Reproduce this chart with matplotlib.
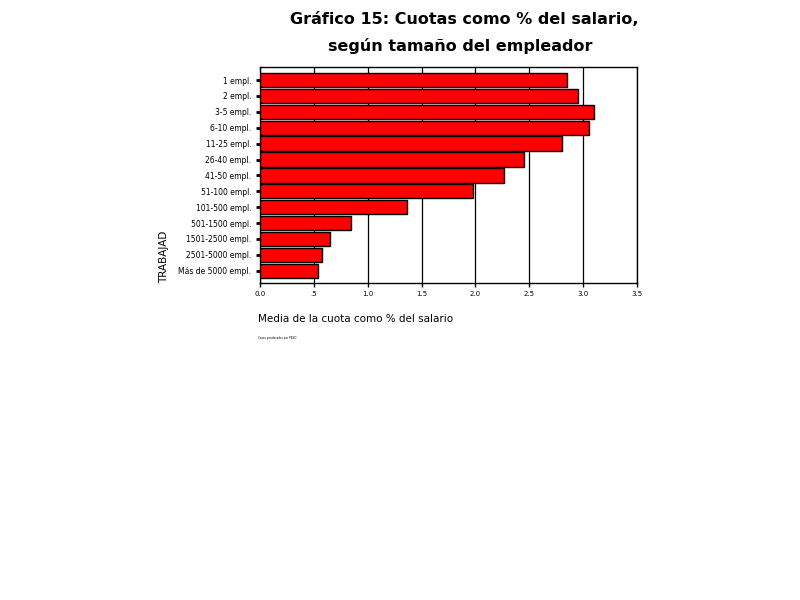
import matplotlib.pyplot as plt

# Tamaño del empleador y cuota media como % del salario
categorias = ["1 empl.", "2 empl.", "3-5 empl.", "6-10 empl.", "11-25 empl.",
              "26-40 empl.", "41-50 empl.", "51-100 empl.", "101-500 empl.",
              "501-1500 empl.", "1501-2500 empl.", "2501-5000 empl.",
              "Más de 5000 empl."]
cuota = [2.85, 2.95, 3.10, 3.05, 2.80, 2.45, 2.26, 1.98, 1.37, 0.85, 0.65, 0.58, 0.54]

xticks = [0.0, 0.5, 1.0, 1.5, 2.0, 2.5, 3.0, 3.5]
xticklabels = ["0.0", ".5", "1.0", "1.5", "2.0", "2.5", "3.0", "3.5"]

fig = plt.figure(figsize=(8, 6), dpi=100)
ax = fig.add_axes([0.3246, 0.5283, 0.472, 0.3605])

y = list(range(len(categorias)))
ax.barh(y, cuota, height=0.9, color="#ff0000", edgecolor="black", linewidth=1.0, zorder=3)

ax.set_xlim(0, 3.5)
ax.set_ylim(12.77, -0.84)
ax.set_xticks(xticks)
ax.set_xticklabels(xticklabels, fontsize=5)
ax.set_yticks(y)
ax.set_yticklabels(categorias, fontsize=5.5)
ax.tick_params(axis="y", length=3, width=2, pad=3)
ax.tick_params(axis="x", length=3, width=1, pad=3)
ax.grid(axis="x", color="black", linewidth=0.9, zorder=0)
for s in ax.spines.values():
    s.set_linewidth(1.0)

fig.text(0.58, 0.968, "Gráfico 15: Cuotas como % del salario,", ha="center", va="center",
         fontsize=11.5, fontweight="heavy")
fig.text(0.575, 0.923, "según tamaño del empleador", ha="center", va="center",
         fontsize=11.5, fontweight="heavy")

fig.text(0.205, 0.528, "TRABAJAD", rotation=90, ha="center", va="bottom", fontsize=7.5)
fig.text(0.3225, 0.469, "Media de la cuota como % del salario", ha="left", va="center", fontsize=7.5)
fig.text(0.3225, 0.437, "Casos ponderados por PESO", ha="left", va="center", fontsize=2)

plt.savefig("out.png", dpi=100)
